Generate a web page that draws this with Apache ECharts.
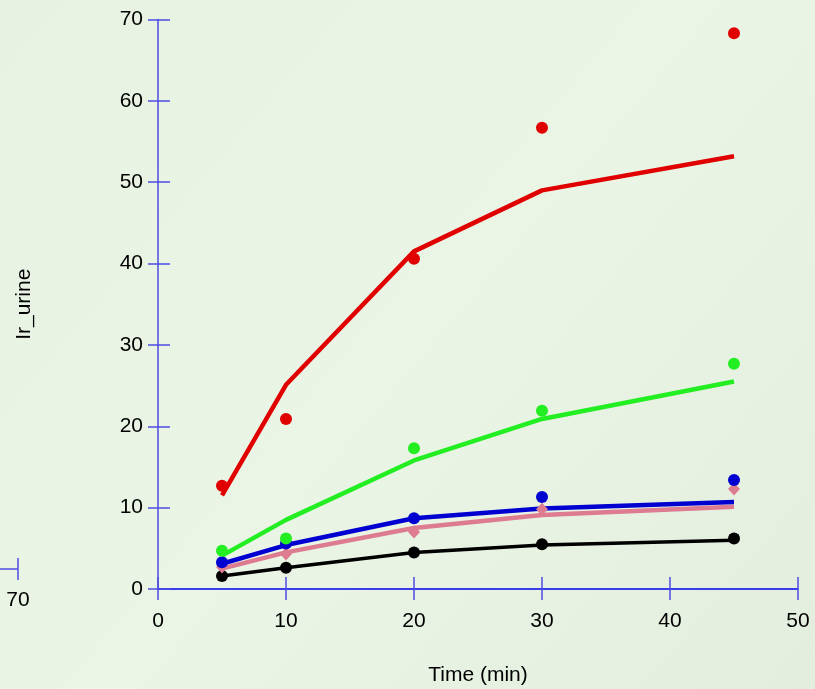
<!DOCTYPE html>
<html>
<head>
<meta charset="utf-8">
<script src="https://cdn.jsdelivr.net/npm/echarts@6/dist/echarts.min.js"></script>
<style>
html,body{margin:0;padding:0;background:#e6f1e1;}
#c{width:815px;height:689px;}
</style>
</head>
<body>
<div id="c"></div>
<script>
// Data
var times = [5, 10, 20, 30, 45];
var xTicks = [0, 10, 20, 30, 40, 50];
var yTicks = [0, 10, 20, 30, 40, 50, 60, 70];

var redObs   = [12.7, 20.9, 40.6, 56.7, 68.3];
var redFit   = [11.5, 25.1, 41.5, 49.0, 53.2];
var greenObs = [4.7, 6.2, 17.3, 21.9, 27.7];
var greenFit = [4.1, 8.5, 15.8, 20.9, 25.5];
var blueObs  = [3.3, 5.6, 8.7, 11.3, 13.4];
var blueFit  = [3.1, 5.4, 8.7, 9.9, 10.7];
var pinkObs  = [2.7, 4.3, 7.0, 9.8, 12.3];
var pinkFit  = [2.5, 4.5, 7.5, 9.1, 10.1];
var blackObs = [1.6, 2.6, 4.5, 5.5, 6.2];
var blackFit = [1.6, 2.6, 4.5, 5.4, 6.0];

function pts(ys){ return times.map(function(t,i){ return [t, ys[i]]; }); }

var chart = echarts.init(document.getElementById('c'), null, {renderer:'canvas'});

var font = 'Liberation Sans, Arial, sans-serif';
var axisBlue = '#4c4ce2';
var xLineBlue = '#0000ee';

function lineS(ys, color, w){
  return {type:'line', data:pts(ys), symbol:'none', lineStyle:{color:color, width:w, opacity:1}, z:2, silent:true, animation:false};
}
function scatS(ys, color, sym, size){
  return {type:'scatter', data:pts(ys), symbol:sym, symbolSize:size, itemStyle:{color:color, opacity:1}, z:3, silent:true, animation:false};
}

var option = {
  backgroundColor: {
    type:'linear', x:0, y:0, x2:1, y2:1,
    colorStops:[{offset:0,color:'#e7f2e2'},{offset:0.5,color:'#eaf5e6'},{offset:1,color:'#e3eedf'}]
  },
  animation:false,
  grid:{left:158, right:17, top:19.5, bottom:100, containLabel:false, outerBoundsMode:'none'},
  xAxis:[
    {type:'value', min:0, max:50, interval:10, position:'bottom',
     name:'Time (min)', nameLocation:'middle', nameGap:76,
     nameTextStyle:{fontFamily:font, fontSize:21, color:'#000'},
     axisLine:{show:true, onZero:false, lineStyle:{color:xLineBlue, width:1.5}},
     axisTick:{show:true, inside:false, length:11, lineStyle:{color:axisBlue, width:1.5}},
     axisLabel:{show:true, margin:22, fontFamily:font, fontSize:21, color:'#000'},
     splitLine:{show:false}},
    {type:'value', min:0, max:50, interval:10, position:'bottom', offset:0,
     axisLine:{show:false},
     axisTick:{show:true, inside:true, length:12, lineStyle:{color:axisBlue, width:1.5}},
     axisLabel:{show:false}, splitLine:{show:false}}
  ],
  yAxis:[
    {type:'value', min:0, max:70, interval:10, position:'left',
     name:'Ir_urine', nameLocation:'middle', nameGap:123, nameRotate:90,
     nameTextStyle:{fontFamily:font, fontSize:21, color:'#000'},
     axisLine:{show:true, onZero:false, lineStyle:{color:axisBlue, width:1.5}},
     axisTick:{show:true, inside:false, length:10, lineStyle:{color:axisBlue, width:1.5}},
     axisLabel:{show:true, margin:15, fontFamily:font, fontSize:21, color:'#000'},
     splitLine:{show:false}},
    {type:'value', min:0, max:70, interval:10, position:'left', offset:0,
     axisLine:{show:false},
     axisTick:{show:true, inside:true, length:12, lineStyle:{color:axisBlue, width:1.5}},
     axisLabel:{show:false}, splitLine:{show:false}}
  ],
  graphic:[
    {type:'line', shape:{x1:0, y1:569, x2:18, y2:569}, style:{stroke:axisBlue, lineWidth:1.5}},
    {type:'line', shape:{x1:18, y1:558, x2:18, y2:580}, style:{stroke:axisBlue, lineWidth:1.5}},
    {type:'text', x:18, y:600, style:{text:'70', fill:'#000', font:'21px ' + font, textAlign:'center', textVerticalAlign:'middle'}}
  ],
  series:[
    lineS(blackFit, '#000000', 3.5),
    lineS(pinkFit, '#dd7b90', 4.5),
    lineS(blueFit, '#0000d0', 4.5),
    lineS(greenFit, '#22ee22', 4.5),
    lineS(redFit, '#e00000', 4.5),
    scatS(blackObs, '#000000', 'circle', 12),
    scatS(pinkObs, '#dd7b90', 'diamond', [12,13]),
    scatS(blueObs, '#0000d0', 'circle', 12),
    scatS(greenObs, '#22ee22', 'circle', 12),
    scatS(redObs, '#e00000', 'circle', 12)
  ]
};
chart.setOption(option);
</script>
</body>
</html>
